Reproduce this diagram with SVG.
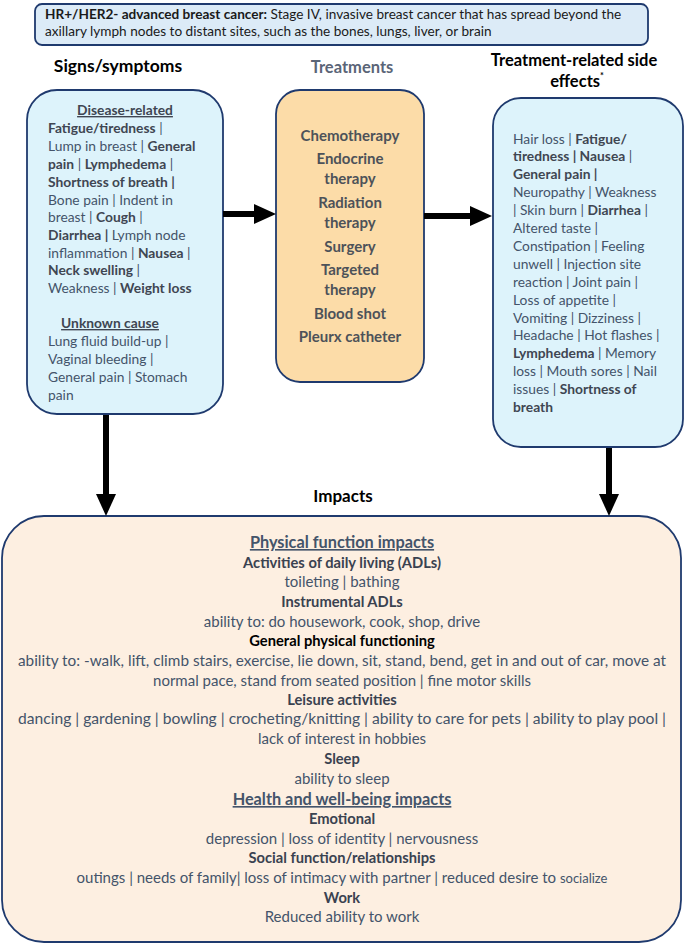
<svg xmlns="http://www.w3.org/2000/svg" width="685" height="945" viewBox="0 0 685 945">
<style>
text{font-family:Lato,"Open Sans","Liberation Sans",sans-serif;}
.box{stroke:#1f3a6e;stroke-width:1.8;}
.blue{fill:#ddf3fb;}
.t{font-size:13.8px;fill:#44546a;}
.h{font-size:13.6px;fill:#1a1a1a;}
.b{font-weight:700;fill:#3f4652;}
.mid{font-size:15px;font-weight:700;fill:#4d5259;text-anchor:middle;}
.bt{font-size:15px;fill:#44546a;text-anchor:middle;}
.bh{font-size:14.7px;font-weight:700;fill:#3a4250;text-anchor:middle;}
.uh{font-size:16.3px;font-weight:700;fill:#44546a;text-anchor:middle;text-decoration:underline;}
.title{font-size:16.5px;font-weight:700;fill:#000;text-anchor:middle;}
.arr{stroke:#000;stroke-width:6;fill:none;marker-end:url(#ah);}
</style>
<defs>
<marker id="ah" markerUnits="userSpaceOnUse" markerWidth="22" markerHeight="20" refX="4" refY="10" orient="auto">
<path d="M0,0 L22,10 L0,20 z" fill="#000"/>
</marker>
</defs>

<g id="header">
<rect class="box" x="35" y="4" width="613" height="41" rx="7" fill="#dcebf7"/>
<text class="h" x="45" y="18.5"><tspan font-weight="700">HR+/HER2- advanced breast cancer:</tspan> Stage IV, invasive breast cancer that has spread beyond the</text>
<text class="h" x="45" y="36">axillary lymph nodes to distant sites, such as the bones, lungs, liver, or brain</text>
</g>

<g id="titles">
<text class="title" x="118" y="72" style="font-size:17.5px">Signs/symptoms</text>
<text class="title" x="352" y="73" style="fill:#5a6577">Treatments</text>
<text class="title" x="574" y="66">Treatment-related side</text>
<text class="title" x="577" y="87">effects<tspan font-size="9" dy="-8">*</tspan></text>
<text class="title" x="343" y="502" style="font-size:17px">Impacts</text>
</g>

<g id="signs">
<rect class="box blue" x="27" y="90" width="196" height="324" rx="30"/>
<text class="t b" x="125" y="115" text-anchor="middle" text-decoration="underline">Disease-related</text>
<text class="t" x="48" y="133"><tspan class="b">Fatigue/tiredness</tspan> |</text>
<text class="t" x="48" y="151">Lump in breast | <tspan class="b">General</tspan></text>
<text class="t" x="48" y="169"><tspan class="b">pain</tspan> | <tspan class="b">Lymphedema</tspan> |</text>
<text class="t" x="48" y="186.5"><tspan class="b">Shortness of breath |</tspan></text>
<text class="t" x="48" y="204.5">Bone pain | Indent in</text>
<text class="t" x="48" y="222">breast | <tspan class="b">Cough</tspan> |</text>
<text class="t" x="48" y="240"><tspan class="b">Diarrhea |</tspan> Lymph node</text>
<text class="t" x="48" y="257.5">inflammation | <tspan class="b">Nausea</tspan> |</text>
<text class="t" x="48" y="275"><tspan class="b">Neck swelling</tspan> |</text>
<text class="t" x="48" y="293">Weakness | <tspan class="b">Weight loss</tspan></text>
<text class="t b" x="110" y="328" text-anchor="middle" text-decoration="underline">Unknown cause</text>
<text class="t" x="48" y="346">Lung fluid build-up |</text>
<text class="t" x="48" y="364">Vaginal bleeding |</text>
<text class="t" x="48" y="382">General pain | Stomach</text>
<text class="t" x="48" y="400">pain</text>
</g>

<g id="treatments">
<rect class="box" x="276" y="90" width="148" height="292" rx="24" fill="#fcdca8"/>
<text class="mid" x="350" y="140.5">Chemotherapy</text>
<text class="mid" x="350" y="164">Endocrine</text>
<text class="mid" x="350" y="184">therapy</text>
<text class="mid" x="350" y="208">Radiation</text>
<text class="mid" x="350" y="228">therapy</text>
<text class="mid" x="350" y="252">Surgery</text>
<text class="mid" x="350" y="275">Targeted</text>
<text class="mid" x="350" y="295">therapy</text>
<text class="mid" x="350" y="319">Blood shot</text>
<text class="mid" x="350" y="342">Pleurx catheter</text>
</g>

<g id="sideeffects">
<rect class="box blue" x="493" y="98" width="190" height="349" rx="28"/>
<text class="t" x="513" y="143.5">Hair loss | <tspan class="b">Fatigue/</tspan></text>
<text class="t" x="513" y="161.4"><tspan class="b">tiredness | Nausea</tspan> |</text>
<text class="t" x="513" y="179.3"><tspan class="b">General pain |</tspan></text>
<text class="t" x="513" y="197.2">Neuropathy | Weakness</text>
<text class="t" x="513" y="215.1">| Skin burn | <tspan class="b">Diarrhea</tspan> |</text>
<text class="t" x="513" y="233">Altered taste |</text>
<text class="t" x="513" y="250.9">Constipation | Feeling</text>
<text class="t" x="513" y="268.8">unwell | Injection site</text>
<text class="t" x="513" y="286.7">reaction | Joint pain |</text>
<text class="t" x="513" y="304.6">Loss of appetite |</text>
<text class="t" x="513" y="322.5">Vomiting | Dizziness |</text>
<text class="t" x="513" y="340.4">Headache | Hot flashes |</text>
<text class="t" x="513" y="358.3"><tspan class="b">Lymphedema</tspan> | Memory</text>
<text class="t" x="513" y="376.2">loss | Mouth sores | Nail</text>
<text class="t" x="513" y="394.1">issues | <tspan class="b">Shortness of</tspan></text>
<text class="t" x="513" y="412"><tspan class="b">breath</tspan></text>
</g>

<g id="impacts">
<rect class="box" x="2" y="516" width="679" height="426" rx="42" fill="#fdefe1"/>
<text class="uh" x="342" y="548">Physical function impacts</text>
<text class="bh" x="342" y="567.5">Activities of daily living (ADLs)</text>
<text class="bt" x="342" y="587">toileting | bathing</text>
<text class="bh" x="342" y="607">Instrumental ADLs</text>
<text class="bt" x="342" y="626.5">ability to: do housework, cook, shop, drive</text>
<text class="bh" x="342" y="646" style="fill:#000">General physical functioning</text>
<text class="bt" x="342" y="665.5" textLength="648" lengthAdjust="spacingAndGlyphs">ability to: -walk, lift, climb stairs, exercise, lie down, sit, stand, bend, get in and out of car, move at</text>
<text class="bt" x="342" y="685.5">normal pace, stand from seated position | fine motor skills</text>
<text class="bh" x="342" y="704.5">Leisure activities</text>
<text class="bt" x="342" y="724" textLength="648" lengthAdjust="spacingAndGlyphs">dancing | gardening | bowling | crocheting/knitting | ability to care for pets | ability to play pool |</text>
<text class="bt" x="342" y="744">lack of interest in hobbies</text>
<text class="bh" x="342" y="764">Sleep</text>
<text class="bt" x="342" y="783.5">ability to sleep</text>
<text class="uh" x="342" y="805">Health and well-being impacts</text>
<text class="bh" x="342" y="823.5">Emotional</text>
<text class="bt" x="342" y="843.5">depression | loss of identity | nervousness</text>
<text class="bh" x="342" y="863">Social function/relationships</text>
<text class="bt" x="342" y="883">outings | needs of family| loss of intimacy with partner | reduced desire to <tspan font-size="13">socialize</tspan></text>
<text class="bh" x="342" y="902.5">Work</text>
<text class="bt" x="342" y="922">Reduced ability to work</text>
</g>

<g id="connectors">
<line class="arr" x1="223" y1="214" x2="258" y2="214"/>
<line class="arr" x1="424" y1="216" x2="474" y2="216"/>
<line class="arr" x1="106" y1="415" x2="106" y2="498"/>
<line class="arr" x1="609" y1="448" x2="609" y2="498"/>
</g>
</svg>
